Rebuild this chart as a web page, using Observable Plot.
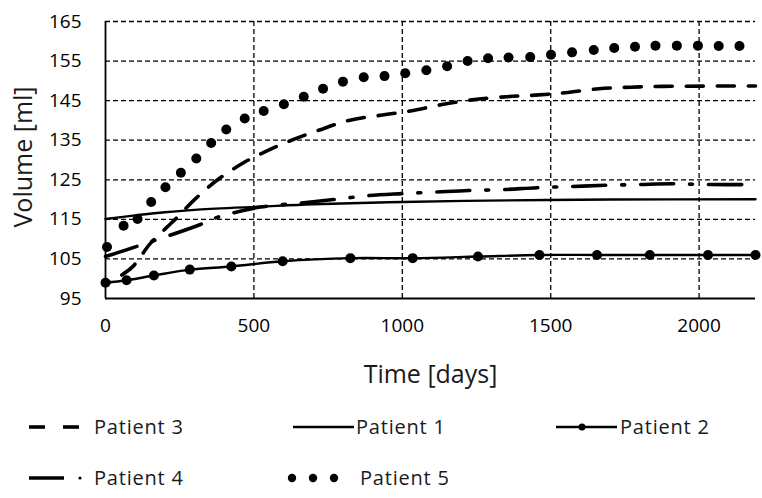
<!DOCTYPE html>
<html>
<head>
<meta charset="utf-8">
<script src="https://cdn.jsdelivr.net/npm/d3@7"></script>
<script src="https://cdn.jsdelivr.net/npm/@observablehq/plot@0.6"></script>
<style>
  html, body { margin: 0; padding: 0; background: #fff; }
  #chart svg text { font-family: "Open Sans", sans-serif; }
  #legend { font-family: "Open Sans", sans-serif; }
</style>
</head>
<body>
<div id="chart"></div>
<div id="legend"></div>
<script>
// ---- data ----
const xTicks = [0, 500, 1000, 1500, 2000];
const yTicks = [95, 105, 115, 125, 135, 145, 155, 165];

const p1Days = [0, 100, 200, 370, 520, 700, 1000, 1360, 1700, 2190];
const p1Vol  = [115.1, 116.0, 116.8, 117.7, 118.2, 118.8, 119.4, 119.8, 120.0, 120.1];

const p2Days = [0, 71, 163, 284, 424, 597, 825, 1035, 1255, 1462, 1656, 1834, 2030, 2190];
const p2Vol  = [99.0, 99.6, 100.8, 102.3, 103.1, 104.4, 105.2, 105.2, 105.6, 106.0, 106.0, 106.0, 106.0, 106.0];

const p3Days = [0, 88, 152, 228, 300, 381, 465, 522, 617, 718, 820, 926, 1027, 1134, 1235, 1353, 1448, 1549, 1662, 1768, 1875, 2190];
const p3Vol  = [98.5, 102.8, 109.0, 114.5, 120.0, 125.2, 129.3, 131.5, 134.7, 137.5, 140.0, 141.3, 142.4, 144.0, 145.2, 146.0, 146.4, 147.0, 148.0, 148.4, 148.6, 148.7];

const p4Days = [0, 107, 320, 376, 522, 657, 768, 886, 997, 1111, 1223, 1336, 1454, 1569, 1684, 1796, 1909, 2021, 2190];
const p4Vol  = [105.6, 108.2, 113.7, 115.5, 118.1, 119.1, 120.0, 121.0, 121.5, 121.9, 122.3, 122.5, 123.0, 123.3, 123.6, 123.8, 124.0, 123.8, 123.8];

const p5Days = [5, 61, 108, 154, 202, 254, 306, 356, 407, 469, 533, 601, 668, 733, 800, 870, 940, 1010, 1081, 1151, 1220, 1289, 1358, 1431, 1501, 1572, 1645, 1714, 1784, 1853, 1925, 1996, 2066, 2136];
const p5Vol  = [108.0, 113.4, 115.1, 119.4, 123.1, 126.8, 130.4, 134.3, 137.7, 140.5, 142.4, 144.1, 146.0, 148.0, 149.8, 150.9, 151.2, 151.9, 152.7, 153.7, 155.0, 155.7, 155.9, 156.0, 156.6, 157.2, 157.8, 158.3, 158.6, 158.9, 158.9, 158.9, 158.8, 158.8];

const zip = (xs, ys) => xs.map((x, i) => ({x, y: ys[i]}));
const p1 = zip(p1Days, p1Vol), p2 = zip(p2Days, p2Vol), p3 = zip(p3Days, p3Vol),
      p4 = zip(p4Days, p4Vol), p5 = zip(p5Days, p5Vol);

const gridDash = "5,3";
const chart = Plot.plot({
  width: 762,
  height: 400,
  marginLeft: 105,
  marginRight: 7,
  marginTop: 21,
  marginBottom: 102,
  style: {fontFamily: "Open Sans, sans-serif", fontSize: "19px", color: "#000", background: "#fff"},
  x: {domain: [0, 2190], ticks: xTicks, tickSize: 0, tickPadding: 20, label: null, tickFormat: d => String(d)},
  y: {domain: [95, 165], ticks: yTicks, tickSize: 0, tickPadding: 24, label: null, tickFormat: d => String(d)},
  marks: [
    Plot.ruleY(yTicks.filter(d => d > 95), {stroke: "#000", strokeWidth: 1.3, strokeDasharray: gridDash}),
    Plot.ruleX(xTicks.filter(d => d > 0), {stroke: "#000", strokeWidth: 1.3, strokeDasharray: gridDash}),
    Plot.ruleY([95], {stroke: "#000", strokeWidth: 1.8}),
    Plot.ruleX([0], {stroke: "#000", strokeWidth: 1.8}),
    Plot.line(p1, {x: "x", y: "y", stroke: "#000", strokeWidth: 2.4, curve: "catmull-rom"}),
    Plot.line(p2, {x: "x", y: "y", stroke: "#000", strokeWidth: 2.4, curve: "catmull-rom"}),
    Plot.dot(p2, {x: "x", y: "y", r: 5, fill: "#000"}),
    Plot.line(p4, {x: "x", y: "y", stroke: "#000", strokeWidth: 3.6, strokeDasharray: "33,16,3,16", curve: "catmull-rom"}),
    Plot.line(p3, {x: "x", y: "y", stroke: "#000", strokeWidth: 3.6, strokeDasharray: "17,14", strokeDashoffset: 12, curve: "catmull-rom"}),
    Plot.dot(p5, {x: "x", y: "y", r: 5, fill: "#000"}),
    Plot.text(["Time [days]"], {frameAnchor: "bottom", textAnchor: "middle", dy: 84, fontSize: 25, fill: "#1a1a1a"}),
    Plot.text(["Volume [ml]"], {frameAnchor: "left", textAnchor: "middle", dx: -82, dy: -3, rotate: -90, fontSize: 25, fill: "#1a1a1a"})
  ]
});
document.getElementById("chart").appendChild(chart);

// ---- legend ----
const legendItems = [
  {label: "Patient 3", row: 0, x0: 29, tx: 94, type: "dash"},
  {label: "Patient 1", row: 0, x0: 293, tx: 356, type: "solid"},
  {label: "Patient 2", row: 0, x0: 556, tx: 620, type: "marker"},
  {label: "Patient 4", row: 1, x0: 29, tx: 94, type: "dashdot"},
  {label: "Patient 5", row: 1, x0: 292, tx: 360, type: "dots"}
];
const rowsY = [27, 78];
const lsvg = d3.select("#legend").append("svg").attr("width", 762).attr("height", 98);
for (const it of legendItems) {
  const g = lsvg.append("g");
  const y = rowsY[it.row];
  if (it.type === "dash") {
    g.append("line").attr("x1", it.x0).attr("x2", it.x0 + 16).attr("y1", y).attr("y2", y).attr("stroke", "#000").attr("stroke-width", 3.6);
    g.append("line").attr("x1", it.x0 + 34).attr("x2", it.x0 + 50).attr("y1", y).attr("y2", y).attr("stroke", "#000").attr("stroke-width", 3.6);
  } else if (it.type === "solid") {
    g.append("line").attr("x1", it.x0).attr("x2", it.x0 + 61).attr("y1", y).attr("y2", y).attr("stroke", "#000").attr("stroke-width", 2.4);
  } else if (it.type === "marker") {
    g.append("line").attr("x1", it.x0).attr("x2", it.x0 + 61).attr("y1", y).attr("y2", y).attr("stroke", "#000").attr("stroke-width", 2.4);
    g.append("circle").attr("cx", it.x0 + 26).attr("cy", y).attr("r", 3.5).attr("fill", "#000");
  } else if (it.type === "dashdot") {
    g.append("line").attr("x1", it.x0).attr("x2", it.x0 + 35).attr("y1", y).attr("y2", y).attr("stroke", "#000").attr("stroke-width", 3.6);
    g.append("circle").attr("cx", it.x0 + 51).attr("cy", y).attr("r", 1.6).attr("fill", "#000");
  } else if (it.type === "dots") {
    [0, 21, 42].forEach(d => g.append("circle").attr("cx", it.x0 + d).attr("cy", y).attr("r", 4.2).attr("fill", "#000"));
  }
  g.append("text").attr("x", it.tx).attr("y", y).attr("dy", "0.36em")
    .attr("font-size", 20).attr("letter-spacing", 0.8).attr("fill", "#1a1a1a")
    .attr("font-family", "Open Sans, sans-serif").text(it.label);
}
</script>
</body>
</html>
